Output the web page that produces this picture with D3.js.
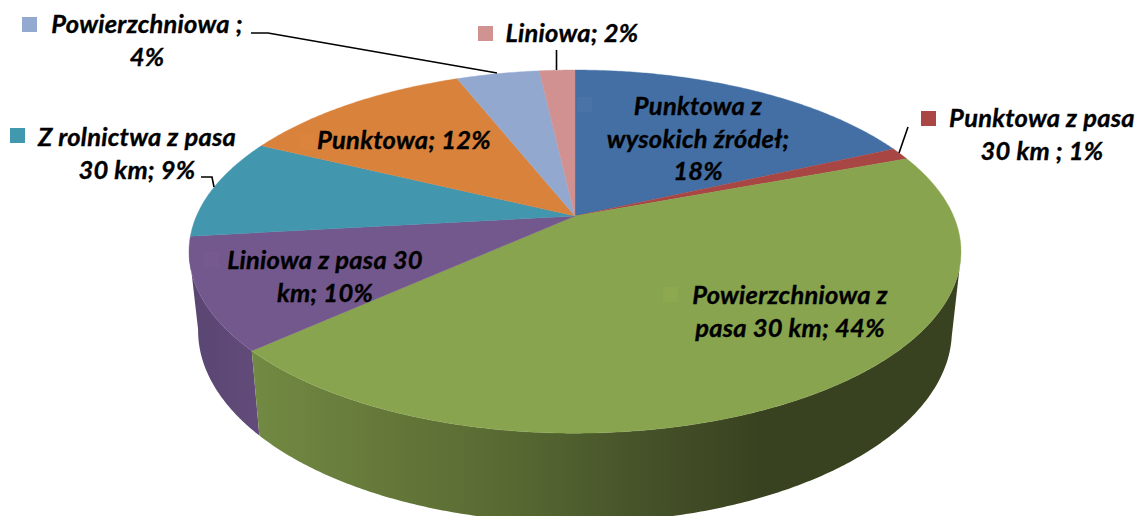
<!DOCTYPE html>
<html><head><meta charset="utf-8">
<script src="https://cdnjs.cloudflare.com/ajax/libs/d3/7.8.5/d3.min.js"></script>
<style>html,body{margin:0;padding:0;background:#fff;overflow:hidden}svg{display:block}
text{font-family:Lato,"Open Sans",sans-serif;font-weight:700;font-style:italic;font-size:25.5px;letter-spacing:.25px;fill:#000;stroke:#000;stroke-width:.35px}</style>
</head><body><svg id="c" width="1138" height="516"></svg>
<script>
const categories=["Punktowa z wysokich źródeł","Punktowa z pasa 30 km","Powierzchniowa z pasa 30 km","Liniowa z pasa 30 km","Z rolnictwa z pasa 30 km","Punktowa","Powierzchniowa","Liniowa"];
const values=[18.2,1.1,44.0,9.9,9.0,11.8,4.2,1.8];
const labelLines=[["Punktowa z","wysokich źródeł;","18%"],["Punktowa z pasa","30 km ; 1%"],["Powierzchniowa z","pasa 30 km; 44%"],["Liniowa z pasa 30","km; 10%"],["Z rolnictwa z pasa","30 km; 9%"],["Punktowa; 12%"],["Powierzchniowa ;","4%"],["Liniowa; 2%"]];
const colors=["#446fa4","#a84644","#88a44e","#73588d","#4296ae","#d9823c","#93a8cf","#d09190"];
const keyColors=["#4a74a8","#aa4643","#8ea850","#76598f","#4198af","#db843d","#93a9cf","#d19392"];

// layout (not data)
const labelPos=[[698,115],[1042,127],[790,304],[325,269],[137,146],[404,149],[147,33],[572,42]];
const keyPos=[[577,97],[921,111],[663,287],[204,252],[10,128],[300,134],[22,17],[478,26]];
const leaders=[null,[[908,127],[899,153]],null,null,[[201,177],[212,177],[214,187]],null,[[251,33],[268,33],[497,73]],[[556.5,50],[556.5,70]]];
const K=0.196;
const top3={a:378.5,b:174.6,cx:575,cy:216};
const bot3={a:369.6,b:184.6,cx:575,cy:293};
const project=(p,t)=>{const u=Math.sin(t),v=-Math.cos(t),d=1-K*v;return [p.cx+p.a*u/d,p.cy+p.b*v/d];};

const svg=d3.select("#c");
const arcs=d3.pie().sort(null)(values);
const deg=Math.PI/180;
const defs=svg.append("defs");
const gGreen=defs.append("linearGradient").attr("id","gg").attr("gradientUnits","userSpaceOnUse").attr("x1",250).attr("x2",760).attr("y1",0).attr("y2",0);
[[0,"#728a43"],[.25,"#66793a"],[.5,"#586a32"],[.75,"#47542a"],[1,"#394220"]].forEach(s=>gGreen.append("stop").attr("offset",s[0]).attr("stop-color",s[1]));
const gPur=defs.append("linearGradient").attr("id","gp").attr("gradientUnits","userSpaceOnUse").attr("x1",190).attr("x2",260).attr("y1",0).attr("y2",0);
[[0,"#5a4672"],[1,"#624b7a"]].forEach(s=>gPur.append("stop").attr("offset",s[0]).attr("stop-color",s[1]));

const line=d3.line();
const sample=(a,b)=>{const n=Math.max(2,Math.ceil(Math.abs(b-a)/(0.5*deg)));return d3.range(n+1).map(i=>a+(b-a)*i/n);};
// visible outer walls, from silhouette to silhouette
const wall=(a,b,fill)=>{
  const ts=sample(a,b);
  const pts=ts.map(t=>project(top3,t)).concat(ts.slice().reverse().map(t=>project(bot3,t)));
  svg.append("path").attr("d",line(pts)+"Z").attr("fill",fill);
};
wall(arcs[3].startAngle,259*deg,"url(#gp)");
wall(103*deg,arcs[2].endAngle,"url(#gg)");
// top faces
arcs.forEach((d,i)=>{
  const pts=[[top3.cx,top3.cy]].concat(sample(d.startAngle,d.endAngle).map(t=>project(top3,t)));
  svg.append("path").attr("d",line(pts)+"Z").attr("fill",colors[i]).attr("stroke",colors[i]).attr("stroke-width",.4);
});
// leaders
leaders.forEach(l=>{if(l)svg.append("path").attr("d",line(l)).attr("fill","none").attr("stroke","#000").attr("stroke-width",1.6);});
// keys
keyPos.forEach((k,i)=>svg.append("rect").attr("x",k[0]).attr("y",k[1]).attr("width",15).attr("height",15).attr("fill",keyColors[i]));
// labels
labelLines.forEach((ls,i)=>{
  ls.forEach((s,j)=>svg.append("text").attr("x",labelPos[i][0]).attr("y",labelPos[i][1]+j*32.5).attr("text-anchor","middle").text(s));
});
</script></body></html>
